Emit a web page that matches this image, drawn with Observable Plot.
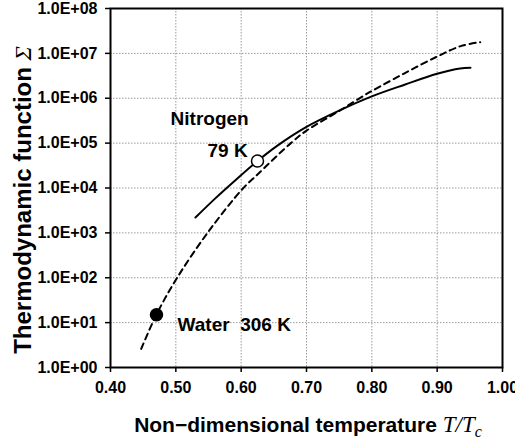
<!DOCTYPE html>
<html><head><meta charset="utf-8">
<script src="https://cdn.jsdelivr.net/npm/d3@7"></script>
<script src="https://cdn.jsdelivr.net/npm/@observablehq/plot@0.6"></script>
<style>body{margin:0;background:#fff} svg{display:block}</style>
</head><body><div id="chart"></div>
<script>
// Water (dashed line)
const waterT = [0.447, 0.470, 0.502, 0.551, 0.602, 0.625, 0.676, 0.700, 0.750, 0.788, 0.800, 0.850, 0.900, 0.936, 0.966];
const waterS = [2.6, 14.8, 100, 1120, 9.5e3, 2.0e4, 1.0e5, 1.9e5, 5.2e5, 1.15e6, 1.45e6, 3.6e6, 8.5e6, 1.45e7, 1.78e7];
// Nitrogen (solid line)
const nitroT = [0.530, 0.560, 0.589, 0.625, 0.655, 0.700, 0.750, 0.800, 0.850, 0.900, 0.935, 0.951];
const nitroS = [2.2e3, 5.8e3, 1.4e4, 4.0e4, 8.7e4, 2.3e5, 5.3e5, 1.1e6, 2.0e6, 3.5e6, 4.6e6, 4.8e6];
// Operating points
const pointNames = ["Water", "Nitrogen"];
const pointT = [0.4704, 0.625];
const pointS = [15, 4.0e4];
// Annotation labels
const labelText = ["Nitrogen", "79 K", "Water  306 K"];
const labelT = [0.492, 0.5485, 0.5026];
const labelS = [3.5e5, 6.6e4, 8.7];
// Ticks
const xTicks = [0.40, 0.50, 0.60, 0.70, 0.80, 0.90, 1.00];
const yTicks = [1, 1e1, 1e2, 1e3, 1e4, 1e5, 1e6, 1e7, 1e8];

const water = waterT.map((t, i) => ({t, s: waterS[i]}));
const nitro = nitroT.map((t, i) => ({t, s: nitroS[i]}));
const points = pointT.map((t, i) => ({name: pointNames[i], t, s: pointS[i]}));
const labels = labelText.map((text, i) => ({text, t: labelT[i], s: labelS[i]}));

const tickFont = "'Liberation Sans Narrow', 'Arial Narrow', 'Liberation Sans', Arial, sans-serif";
const gridStyle = {stroke: "#9a9a9a", strokeOpacity: 1, strokeWidth: 1, strokeDasharray: "1.5,1.5"};

const chart = Plot.plot({
  width: 515, height: 443,
  marginLeft: 110, marginRight: 13, marginTop: 8, marginBottom: 76,
  style: {fontFamily: "'Liberation Sans', Arial, sans-serif", background: "white", overflow: "visible"},
  x: {domain: [0.4, 1.0]},
  y: {type: "log", domain: [1, 1e8]},
  marks: [
    Plot.gridX(xTicks.slice(1, -1), gridStyle),
    Plot.gridY(yTicks.slice(1, -1), gridStyle),
    Plot.axisX(xTicks, {tickSize: 5, tickPadding: 9, tickFormat: d => d.toFixed(2), fontSize: 16, fontWeight: "bold", fontFamily: tickFont, label: null, strokeWidth: 1.5}),
    Plot.axisY(yTicks, {tickSize: 5, tickPadding: 8, tickFormat: d => "1.0E+" + String(Math.round(Math.log10(d))).padStart(2, "0"), fontSize: 16, fontWeight: "bold", fontFamily: tickFont, label: null, strokeWidth: 1.5}),
    Plot.line(water, {x: "t", y: "s", curve: "catmull-rom", stroke: "black", strokeWidth: 2, strokeDasharray: "6,4.5"}),
    Plot.line(nitro, {x: "t", y: "s", curve: "catmull-rom", stroke: "black", strokeWidth: 2}),
    Plot.dot(points, {x: "t", y: "s", r: 6, fill: d => d.name === "Water" ? "black" : "white", stroke: "black", strokeWidth: 1.5}),
    Plot.text(labels, {x: "t", y: "s", text: "text", textAnchor: "start", fontSize: 19, fontWeight: "bold", fill: "black"}),
    Plot.frame({stroke: "black", strokeWidth: 2})
  ]
});

const svg = d3.select(chart);
const serif = "'Liberation Serif', 'Times New Roman', serif";
// x-axis title
const xt = svg.append("text")
  .attr("x", 308).attr("y", 432)
  .attr("text-anchor", "middle")
  .attr("font-size", 21)
  .attr("font-weight", "bold")
  .attr("font-family", "'Liberation Sans', Arial, sans-serif")
  .attr("fill", "black");
xt.append("tspan").text("Non\u2212dimensional temperature ");
xt.append("tspan").attr("font-family", serif).attr("font-style", "italic").attr("font-weight", "normal").attr("font-size", 23).text("T/T");
xt.append("tspan").attr("font-family", serif).attr("font-style", "italic").attr("font-weight", "normal").attr("font-size", 16).attr("dy", 5).text("c");
// y-axis title
const yt = svg.append("text")
  .attr("transform", "translate(31,200) rotate(-90)")
  .attr("text-anchor", "middle")
  .attr("font-size", 24)
  .attr("font-weight", "bold")
  .attr("font-family", "'Liberation Sans', Arial, sans-serif")
  .attr("fill", "black");
yt.append("tspan").text("Thermodynamic function ");
yt.append("tspan").attr("font-family", serif).attr("font-style", "italic").attr("font-weight", "normal").text("\u03A3");

document.getElementById("chart").append(chart);
</script>
</body></html>
